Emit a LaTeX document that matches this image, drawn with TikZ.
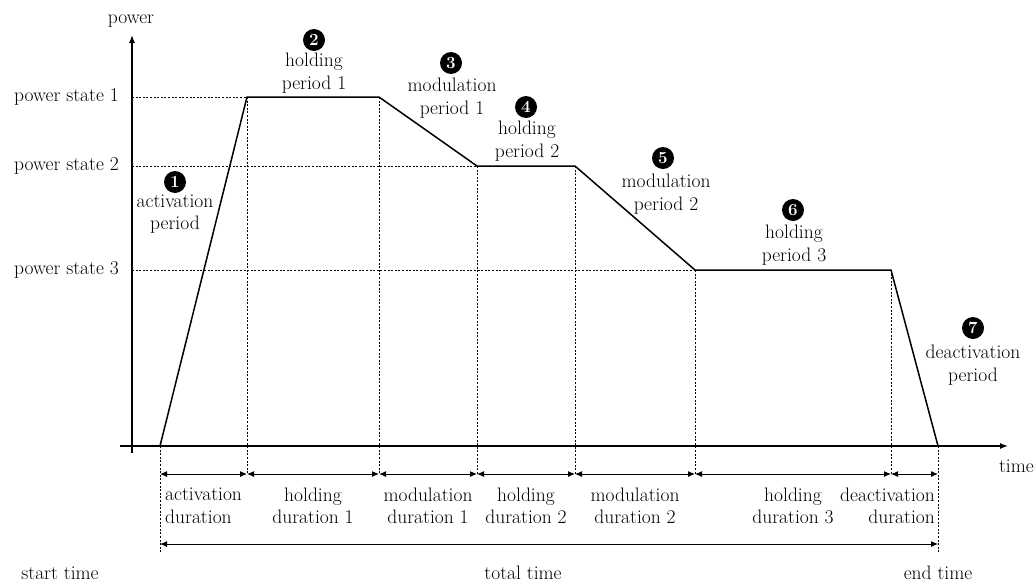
\documentclass[tikz,border=0pt]{standalone}
\usetikzlibrary{arrows.meta}
\begin{document}
\begin{tikzpicture}[x=1pt,y=-1pt, font=\fontsize{19.5}{22.5}\selectfont,
 curve/.style={line width=1.5pt, line join=miter},
 axis/.style={line width=1.3pt, -{Latex[length=8pt,width=6pt]}},
 guide/.style={line width=0.7pt, dash pattern=on 2pt off 1.6pt},
 dur/.style={line width=1pt, {Latex[length=7pt,width=6pt]}-{Latex[length=7pt,width=6pt]}},
 num/.style={circle, fill=black, text=white, inner sep=0pt, minimum size=22pt, font=\fontsize{17}{17}\selectfont\bfseries},
 lbl/.style={align=center, inner sep=0pt},
 txt/.style={inner sep=0pt}]
\useasboundingbox (0,0) rectangle (1035,584);
% axes
\coordinate (ybot) at (132,453);
\coordinate (ytop) at (132,35);
\coordinate (xl) at (120,446);
\coordinate (xr) at (1008,446);
\draw[axis] (ybot) -- (ytop);
\draw[axis] (xl) -- (xr);
\node[txt] (power) at (131,21) {power};
\node[txt, anchor=east] (time) at (1034,466) {time};
% curve points
\coordinate (p0) at (160,446);
\coordinate (p1) at (247,97);
\coordinate (p2) at (379,97);
\coordinate (p3) at (477,166);
\coordinate (p4) at (575,166);
\coordinate (p5) at (695,270);
\coordinate (p6) at (891,270);
\coordinate (p7) at (938,446);
% level labels and axis anchors
\coordinate (a1) at (132,97);
\coordinate (a2) at (132,166);
\coordinate (a3) at (132,270);
\node[txt, anchor=east] (s1) at (119,97) {power state 1};
\node[txt, anchor=east] (s2) at (119,166) {power state 2};
\node[txt, anchor=east] (s3) at (119,270) {power state 3};
% guides
\draw[guide] (a1) -- (p1);
\draw[guide] (a2) -- (p3);
\draw[guide] (a3) -- (p5);
\coordinate (d0) at (160,552);
\coordinate (d1) at (247,474);
\coordinate (d2) at (379,474);
\coordinate (d3) at (477,474);
\coordinate (d4) at (575,474);
\coordinate (d5) at (695,474);
\coordinate (d6) at (891,474);
\coordinate (d7) at (938,552);
\draw[guide] (p0) -- (d0);
\draw[guide] (p1) -- (d1);
\draw[guide] (p2) -- (d2);
\draw[guide] (p3) -- (d3);
\draw[guide] (p4) -- (d4);
\draw[guide] (p5) -- (d5);
\draw[guide] (p6) -- (d6);
\draw[guide] (p7) -- (d7);
% curve
\draw[curve] (p0) -- (p1) -- (p2) -- (p3) -- (p4) -- (p5) -- (p6) -- (p7);
% duration arrows
\coordinate (e0) at (160,474);
\coordinate (e7) at (938,474);
\draw[dur] (e0) -- (d1);
\draw[dur] (d1) -- (d2);
\draw[dur] (d2) -- (d3);
\draw[dur] (d3) -- (d4);
\draw[dur] (d4) -- (d5);
\draw[dur] (d5) -- (d6);
\draw[dur] (d6) -- (e7);
\coordinate (t0) at (160,544);
\coordinate (t1) at (938,544);
\draw[dur] (t0) -- (t1);
% duration labels
\node[lbl, align=left, anchor=west] (l1) at (165,506) {activation\\duration};
\node[lbl] (l2) at (313,506) {holding\\duration 1};
\node[lbl] (l3) at (428,506) {modulation\\duration 1};
\node[lbl] (l4) at (526,506) {holding\\duration 2};
\node[lbl] (l5) at (635,506) {modulation\\duration 2};
\node[lbl] (l6) at (793,506) {holding\\duration 3};
\node[lbl, align=right, anchor=east] (l7) at (935,506) {deactivation\\duration};
\node[txt, anchor=base] (st) at (60,579) {start time};
\node[txt, anchor=base] (tt) at (523,579) {total time};
\node[txt, anchor=base] (et) at (938,579) {end time};
% periods
\node[num] (n1) at (175,182) {1};
\node[lbl] (q1) at (175,214) {activation\\period};
\node[num] (n2) at (314,40) {2};
\node[lbl] (q2) at (314,73) {holding\\period 1};
\node[num] (n3) at (451,63) {3};
\node[lbl] (q3) at (452,98) {modulation\\period 1};
\node[num] (n4) at (526,107) {4};
\node[lbl] (q4) at (527,141) {holding\\period 2};
\node[num] (n5) at (663,158) {5};
\node[lbl] (q5) at (666,194) {modulation\\period 2};
\node[num] (n6) at (793,210) {6};
\node[lbl] (q6) at (794,245) {holding\\period 3};
\node[num] (n7) at (973,328) {7};
\node[lbl] (q7) at (973,365) {deactivation\\period};
\end{tikzpicture}
\end{document}
